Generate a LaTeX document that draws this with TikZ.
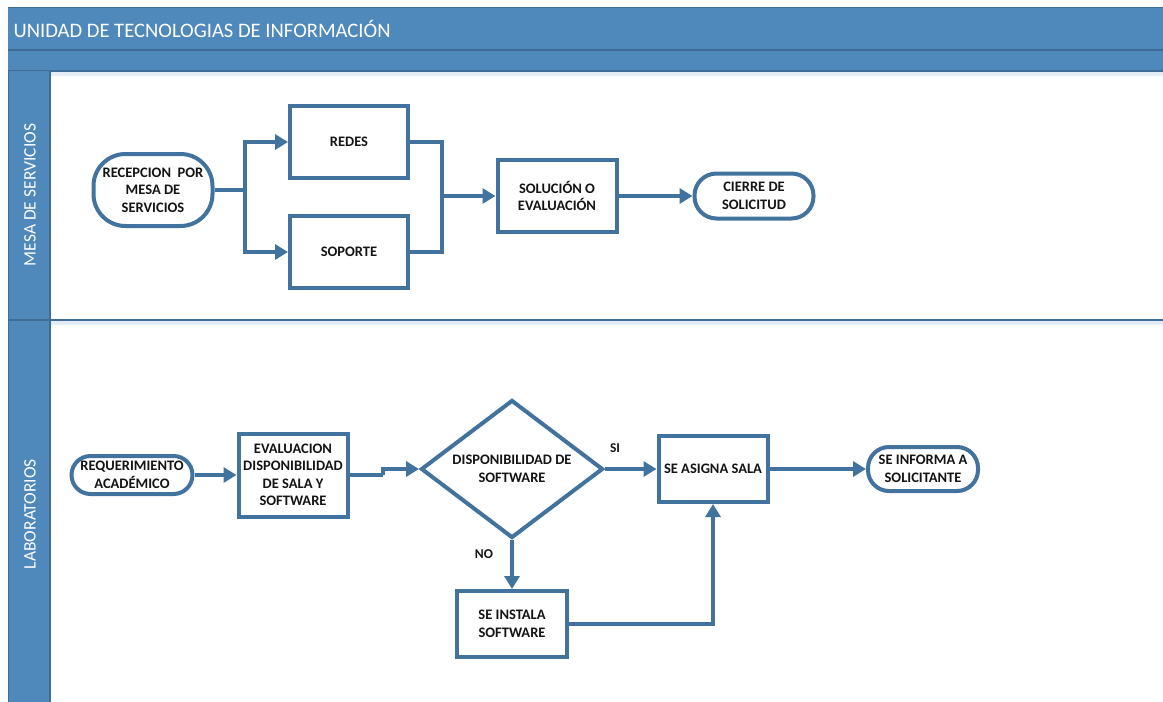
\documentclass[tikz,border=0pt]{standalone}
\usepackage{fontspec}
\setmainfont{Carlito}
\usetikzlibrary{arrows.meta,shapes.geometric}

\definecolor{bandblue}{RGB}{79,136,187}
\definecolor{banddark}{RGB}{62,108,150}
\definecolor{flowblue}{RGB}{66,114,158}
\definecolor{inktext}{RGB}{20,20,20}
\definecolor{lanehaze}{RGB}{228,237,246}

\tikzset{
  box/.style={draw=flowblue, line width=4pt, fill=white, inner sep=0pt,
    align=center, text=inktext, font=\bfseries\fontsize{14.5}{17.5}\selectfont},
  procbox/.style={box, rectangle},
  termbox/.style={box, rectangle},
  decbox/.style={box, diamond, inner sep=-12pt},
  flow/.style={draw=flowblue, line width=4pt},
  arr/.style={flow, -{Triangle[length=13pt,width=15pt]}},
  lanetitle/.style={text=white, font=\fontsize{17.5}{20}\selectfont, rotate=90},
  flowlabel/.style={text=inktext, font=\bfseries\fontsize{13.5}{15}\selectfont},
}

\begin{document}
\begin{tikzpicture}[x=1pt, y=-1pt]
\useasboundingbox (0,0) rectangle (1163,702);
\fill[white] (0,0) rectangle (1163,702);

% pool header
\fill[bandblue] (8,7) rectangle (1163,71);
\draw[banddark, line width=1.2pt] (8,7.5) -- (1163,7.5);
\draw[banddark, line width=1.2pt] (8,50) -- (1163,50);
\draw[banddark, line width=1.2pt] (8,71) -- (1163,71);
\node[anchor=west, text=white, font=\fontsize{20.6}{24}\selectfont] (pooltitle) at (10,29) {UNIDAD DE TECNOLOGIAS DE INFORMACIÓN};

% lane headers and separators
\fill[lanehaze] (50,72) rectangle (1163,76);
\fill[lanehaze] (50,321) rectangle (1163,325);
\fill[bandblue] (8,71) rectangle (50,702);
\draw[banddark, line width=1.2pt] (8.6,71) -- (8.6,702);
\draw[banddark, line width=1.2pt] (50,71) -- (50,702);
\draw[banddark, line width=1.5pt] (8,320) -- (1163,320);
\node[lanetitle] (lane1) at (30,195) {MESA DE SERVICIOS};
\node[lanetitle] (lane2) at (30,514) {LABORATORIOS};

% lane 1: mesa de servicios
\node[termbox, rounded corners=32pt, minimum width=119pt, minimum height=72pt] (rec) at (153,190) {RECEPCION\ \ POR\\MESA DE\\SERVICIOS};
\node[procbox, minimum width=118pt, minimum height=72pt] (redes) at (349,142) {REDES};
\node[procbox, minimum width=118pt, minimum height=72pt] (soporte) at (349,252) {SOPORTE};
\node[procbox, minimum width=119pt, minimum height=72pt] (sol) at (557,196) {SOLUCIÓN O\\EVALUACIÓN};
\node[termbox, rounded corners=22pt, minimum width=119pt, minimum height=45pt] (cierre) at (754,196) {CIERRE DE\\SOLICITUD};

\coordinate (split) at (245,190);
\coordinate (join) at (442,196);
\draw[flow] (rec.east) -- (split);
\draw[arr] (split) |- (redes.west);
\draw[arr] (split) |- (soporte.west);
\draw[flow] (redes.east) -| (join);
\draw[flow] (soporte.east) -| (join);
\draw[arr] (join) -- (sol.west);
\draw[arr] (sol.east) -- (cierre.west);

% lane 2: laboratorios
\node[termbox, rounded corners=19pt, minimum width=121pt, minimum height=38pt] (req) at (132,475) {REQUERIMIENTO\\ACADÉMICO};
\node[procbox, minimum width=109pt, minimum height=83pt] (eval) at (293,475) {EVALUACION\\DISPONIBILIDAD\\DE SALA Y\\SOFTWARE};
\node[decbox, minimum width=182pt, minimum height=138pt] (disp) at (512,469) {DISPONIBILIDAD DE\\SOFTWARE};
\node[procbox, minimum width=109pt, minimum height=66pt] (asig) at (713,469) {SE ASIGNA SALA};
\node[termbox, rounded corners=21pt, minimum width=110pt, minimum height=44pt] (inf) at (923,469) {SE INFORMA A\\SOLICITANTE};
\node[procbox, minimum width=110pt, minimum height=66pt] (inst) at (512,624) {SE INSTALA\\SOFTWARE};

\coordinate (jog) at (383,475);
\draw[arr] (req.east) -- (eval.west);
\draw[flow] (eval.east) -- (jog);
\draw[arr] (jog) |- (disp.west);
\draw[arr] (disp.east) -- (asig.west);
\draw[arr] (disp.south) -- (inst.north);
\draw[arr] (inst.east) -| (asig.south);
\draw[arr] (asig.east) -- (inf.west);
\node[flowlabel] (si) at (615,448) {SI};
\node[flowlabel] (no) at (484,554) {NO};
\end{tikzpicture}
\end{document}
